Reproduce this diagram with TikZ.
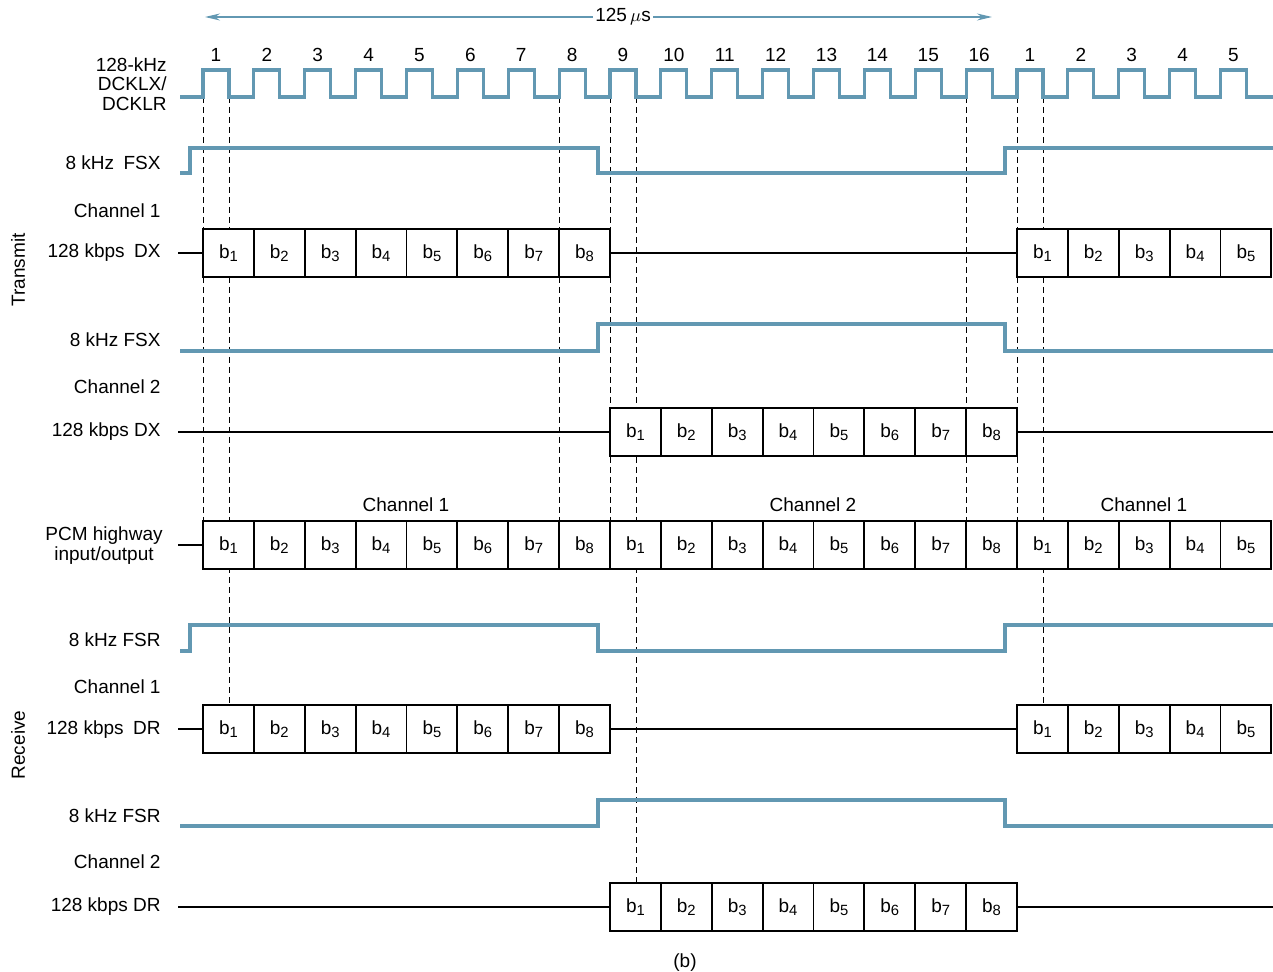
\documentclass[tikz,border=0pt]{standalone}
\usepackage{fontspec}
\setmainfont{Liberation Sans}
\usetikzlibrary{arrows.meta}
\definecolor{sigblue}{RGB}{98,152,178}
\tikzset{
  wave/.style={sigblue, line width=1.6pt},
  guide/.style={line width=0.45pt, dash pattern=on 3pt off 2pt},
  bitbox/.style={draw, fill=white, line width=0.9pt, minimum width=25.44pt, minimum height=24pt, inner sep=0pt, outer sep=0pt, font=\fontsize{9.5}{11}\selectfont},
  dataline/.style={line width=0.8pt},
  lbl/.style={anchor=east, inner sep=0pt},
}
\newcommand{\bitname}[1]{b\raisebox{-1.6pt}{\fontsize{7.4}{8}\selectfont #1}}
\def\p{50.875}

\begin{document}
\begin{tikzpicture}[x=0.5pt, y=-0.5pt, font=\fontsize{9.5}{11}\selectfont]
    \useasboundingbox (0,0) rectangle (1273,972);

    % Frame period
    \node[inner sep=1pt] (period) at (623,17) {125\,$\mu$s};
    \coordinate (periodl) at (205,17);
    \coordinate (periodr) at (992,17);
    \draw[sigblue, line width=0.7pt, -{Stealth[length=7.5pt, width=3.5pt]}] (period) -- (periodl);
    \draw[sigblue, line width=0.7pt, -{Stealth[length=7.5pt, width=3.5pt]}] (period) -- (periodr);

    % Guide lines
    \foreach \x in {203,559,610,966,1017}
        \draw[guide] (\x,97) -- (\x,520);
    \draw[guide] (229,97) -- (229,705);
    \draw[guide] (636,97) -- (636,883);
    \draw[guide] (1043,97) -- (1043,705);

    % Clock
    \node[lbl, align=right, font=\fontsize{9.5}{9.75}\selectfont] (clklbl) at (167,84) {128-kHz\\DCKLX/\\DCKLR};
    \foreach \lab [count=\n from 0] in {1,2,3,4,5,6,7,8,9,10,11,12,13,14,15,16,1,2,3,4,5}
        \node (clk\n) at ({216+\n*\p},55) {\lab};
    \draw[wave] (180,97) \foreach \n in {0,...,20} {
        -- ({203+\n*\p},97) -- ({203+\n*\p},70) -- ({229+\n*\p},70) -- ({229+\n*\p},97)
    } -- (1273,97);

    % Transmit side
    \node[rotate=90] (txside) at (18,270) {Transmit};

    % FSX channel 1
    \node[lbl] (fsx1lbl) at (161,163) {8 kHz\enspace FSX};
    \draw[wave] (180,173) -- (190,173) -- (190,148) -- (598,148) -- (598,173)
        -- (1005,173) -- (1005,148) -- (1273,148);

    % DX channel 1
    \node[lbl] (ch1txlbl) at (161,211) {Channel 1};
    \node[lbl] (dx1lbl) at (161,253) {128 kbps\enspace DX};
    \coordinate (dx1start) at (178,253);
    \foreach \i in {1,...,8}
        \node[bitbox] (dxa\i) at ({203+(\i-0.5)*\p},253) {\bitname{\i}};
    \foreach \i in {1,...,5}
        \node[bitbox] (dxb\i) at ({1017+(\i-0.5)*\p},253) {\bitname{\i}};
    \draw[dataline] (dx1start) -- (dxa1.west);
    \draw[dataline] (dxa8.east) -- (dxb1.west);

    % FSX channel 2
    \node[lbl] (fsx2lbl) at (161,340) {8 kHz FSX};
    \draw[wave] (180,351) -- (598,351) -- (598,324) -- (1005,324) -- (1005,351) -- (1273,351);

    % DX channel 2
    \node[lbl] (ch2txlbl) at (161,387) {Channel 2};
    \node[lbl] (dx2lbl) at (161,432) {128 kbps DX};
    \coordinate (dx2start) at (178,432);
    \coordinate (dx2end) at (1273,432);
    \foreach \i in {1,...,8}
        \node[bitbox] (dxc\i) at ({610+(\i-0.5)*\p},432) {\bitname{\i}};
    \draw[dataline] (dx2start) -- (dxc1.west);
    \draw[dataline] (dxc8.east) -- (dx2end);

    % PCM highway
    \node[inner sep=0pt, align=center, font=\fontsize{9.5}{10}\selectfont] (pcmlbl) at (104,546) {PCM highway\\input/output};
    \coordinate (pcmstart) at (178,545);
    \foreach \i in {1,...,8}
        \node[bitbox] (pcma\i) at ({203+(\i-0.5)*\p},545) {\bitname{\i}};
    \foreach \i in {1,...,8}
        \node[bitbox] (pcmb\i) at ({610+(\i-0.5)*\p},545) {\bitname{\i}};
    \foreach \i in {1,...,5}
        \node[bitbox] (pcmc\i) at ({1017+(\i-0.5)*\p},545) {\bitname{\i}};
    \draw[dataline] (pcmstart) -- (pcma1.west);
    \node (pcmch1) at (406,505) {Channel 1};
    \node (pcmch2) at (813,505) {Channel 2};
    \node (pcmch3) at (1144,505) {Channel 1};

    % Receive side
    \node[rotate=90] (rxside) at (18,745) {Receive};

    % FSR channel 1
    \node[lbl] (fsr1lbl) at (161,640) {8 kHz FSR};
    \draw[wave] (180,651) -- (190,651) -- (190,625) -- (598,625) -- (598,651)
        -- (1005,651) -- (1005,625) -- (1273,625);

    % DR channel 1
    \node[lbl] (ch1rxlbl) at (161,687) {Channel 1};
    \node[lbl] (dr1lbl) at (161,730) {128 kbps\enspace DR};
    \coordinate (dr1start) at (178,729);
    \foreach \i in {1,...,8}
        \node[bitbox] (dra\i) at ({203+(\i-0.5)*\p},729) {\bitname{\i}};
    \foreach \i in {1,...,5}
        \node[bitbox] (drb\i) at ({1017+(\i-0.5)*\p},729) {\bitname{\i}};
    \draw[dataline] (dr1start) -- (dra1.west);
    \draw[dataline] (dra8.east) -- (drb1.west);

    % FSR channel 2
    \node[lbl] (fsr2lbl) at (161,816) {8 kHz FSR};
    \draw[wave] (180,826) -- (598,826) -- (598,800) -- (1005,800) -- (1005,826) -- (1273,826);

    % DR channel 2
    \node[lbl] (ch2rxlbl) at (161,862) {Channel 2};
    \node[lbl] (dr2lbl) at (161,907) {128 kbps DR};
    \coordinate (dr2start) at (178,907);
    \coordinate (dr2end) at (1273,907);
    \foreach \i in {1,...,8}
        \node[bitbox] (drc\i) at ({610+(\i-0.5)*\p},907) {\bitname{\i}};
    \draw[dataline] (dr2start) -- (drc1.west);
    \draw[dataline] (drc8.east) -- (dr2end);

    % Caption
    \node (caption) at (685,963) {(b)};
\end{tikzpicture}
\end{document}
